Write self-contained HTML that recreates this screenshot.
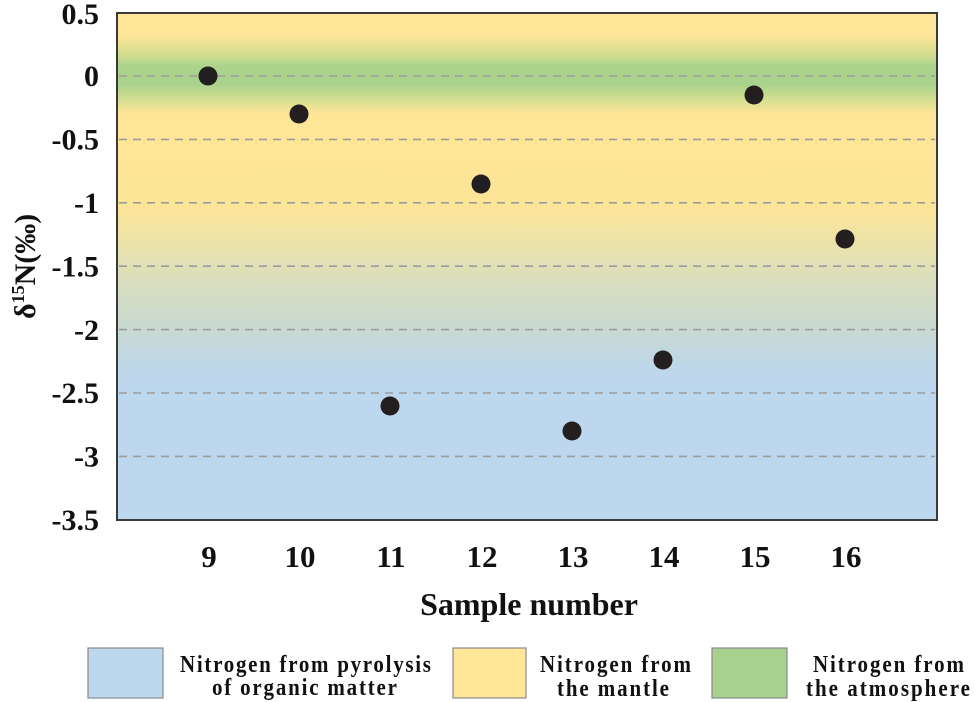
<!DOCTYPE html>
<html>
<head>
<meta charset="utf-8">
<style>
  html, body { margin: 0; padding: 0; background: #ffffff; }
  body { width: 975px; height: 702px; overflow: hidden; }
  svg { display: block; }
  text { font-family: "Liberation Serif", "Times New Roman", serif; font-weight: bold; fill: #111; }
</style>
</head>
<body>
<svg width="975" height="702" viewBox="0 0 975 702" xmlns="http://www.w3.org/2000/svg">
  <defs>
    <linearGradient id="bg" x1="0" y1="13" x2="0" y2="520" gradientUnits="userSpaceOnUse">
      <stop offset="0" stop-color="#ffe699"/>
      <stop offset="0.045" stop-color="#fee597"/>
      <stop offset="0.080" stop-color="#d5de90"/>
      <stop offset="0.105" stop-color="#abd38c"/>
      <stop offset="0.140" stop-color="#a9d28c"/>
      <stop offset="0.170" stop-color="#d3de90"/>
      <stop offset="0.198" stop-color="#fee597"/>
      <stop offset="0.380" stop-color="#fde597"/>
      <stop offset="0.440" stop-color="#efe3a6"/>
      <stop offset="0.500" stop-color="#e0e0b6"/>
      <stop offset="0.560" stop-color="#d3dcc4"/>
      <stop offset="0.625" stop-color="#c8d9d3"/>
      <stop offset="0.700" stop-color="#bed7ea"/>
      <stop offset="0.740" stop-color="#bdd7ee"/>
      <stop offset="1" stop-color="#bdd7ee"/>
    </linearGradient>
  </defs>

  <!-- plot background -->
  <rect x="117" y="13" width="820" height="507" fill="url(#bg)"/>

  <!-- dashed grid lines -->
  <g stroke="#9c9c9c" stroke-width="1.6" stroke-dasharray="8,6" fill="none">
    <line x1="119" y1="76" x2="935" y2="76"/>
    <line x1="119" y1="139.4" x2="935" y2="139.4"/>
    <line x1="119" y1="202.8" x2="935" y2="202.8"/>
    <line x1="119" y1="266.2" x2="935" y2="266.2"/>
    <line x1="119" y1="329.6" x2="935" y2="329.6"/>
    <line x1="119" y1="393" x2="935" y2="393"/>
    <line x1="119" y1="456.4" x2="935" y2="456.4"/>
  </g>

  <!-- frame -->
  <rect x="117" y="13" width="820" height="507" fill="none" stroke="#3a3a3a" stroke-width="2"/>

  <!-- data points -->
  <g fill="#231f20">
    <circle cx="208" cy="76" r="9.5"/>
    <circle cx="299" cy="114" r="9.5"/>
    <circle cx="390" cy="406" r="9.5"/>
    <circle cx="481" cy="184" r="9.5"/>
    <circle cx="572" cy="431" r="9.5"/>
    <circle cx="663" cy="360" r="9.5"/>
    <circle cx="754" cy="95" r="9.5"/>
    <circle cx="845" cy="239" r="9.5"/>
  </g>

  <!-- y tick labels -->
  <g font-size="30" text-anchor="end">
    <text x="99" y="24">0.5</text>
    <text x="99" y="86">0</text>
    <text x="99" y="149.5">-0.5</text>
    <text x="99" y="213">-1</text>
    <text x="99" y="276.5">-1.5</text>
    <text x="99" y="340">-2</text>
    <text x="99" y="403">-2.5</text>
    <text x="99" y="466.5">-3</text>
    <text x="99" y="530">-3.5</text>
  </g>

  <!-- x tick labels -->
  <g font-size="31" text-anchor="middle">
    <text x="209" y="567">9</text>
    <text x="300" y="567">10</text>
    <text x="391" y="567">11</text>
    <text x="482" y="567">12</text>
    <text x="573" y="567">13</text>
    <text x="664" y="567">14</text>
    <text x="755" y="567">15</text>
    <text x="846" y="567">16</text>
  </g>

  <!-- axis titles -->
  <text x="529" y="615" font-size="32" text-anchor="middle">Sample number</text>
  <text transform="translate(35,319) rotate(-90)" font-size="30">δ<tspan font-size="18" dy="-11">15</tspan><tspan dy="11">N(‰)</tspan></text>

  <!-- legend -->
  <rect x="88" y="648" width="75" height="50" fill="#bdd7ee" stroke="#8a8a8a" stroke-width="1.2"/>
  <rect x="453" y="648" width="73" height="50" fill="#ffe699" stroke="#8a8a8a" stroke-width="1.2"/>
  <rect x="712" y="648" width="75" height="50" fill="#a9d18e" stroke="#8a8a8a" stroke-width="1.2"/>

  <g font-size="21" fill="#222">
    <text transform="translate(180,672) scale(1,1.15)" textLength="251" lengthAdjust="spacing">Nitrogen from pyrolysis</text>
    <text transform="translate(212,695) scale(1,1.15)" textLength="185" lengthAdjust="spacing">of organic matter</text>
  </g>
  <g font-size="21" fill="#222">
    <text transform="translate(540,672) scale(1,1.15)" textLength="151" lengthAdjust="spacing">Nitrogen from</text>
    <text transform="translate(557,696) scale(1,1.15)" textLength="112" lengthAdjust="spacing">the mantle</text>
    <text transform="translate(813,672) scale(1,1.15)" textLength="151" lengthAdjust="spacing">Nitrogen from</text>
    <text transform="translate(806,696) scale(1,1.15)" textLength="164" lengthAdjust="spacing">the atmosphere</text>
  </g>
</svg>
</body>
</html>
